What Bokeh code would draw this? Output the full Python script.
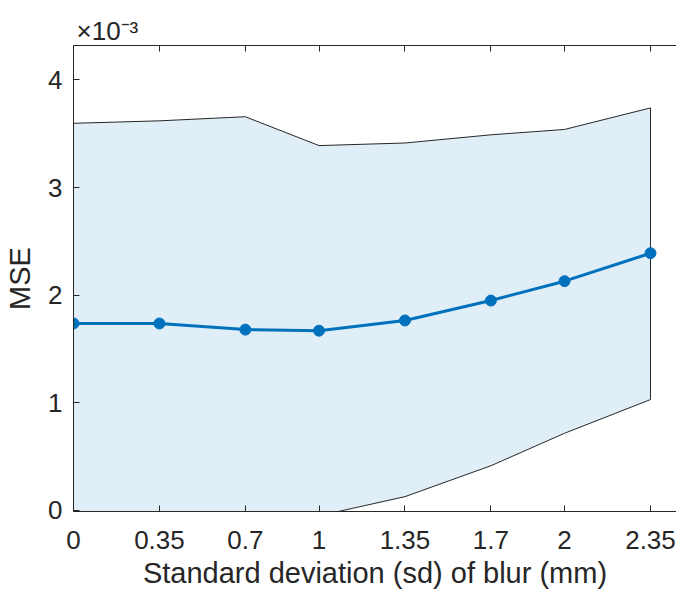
from bokeh.plotting import figure
from bokeh.models import (LinearAxis, FixedTicker, CustomJSTickFormatter,
                          Range1d, ColumnDataSource)
from bokeh.embed import file_html
from bokeh.resources import INLINE

# ---- data ----
sd_blur = [0.0, 0.35, 0.7, 1.0, 1.35, 1.7, 2.0, 2.35]
mse_mean = [1.737e-3, 1.737e-3, 1.680e-3, 1.670e-3, 1.765e-3, 1.950e-3, 2.130e-3, 2.390e-3]
mse_upper = [3.597e-3, 3.620e-3, 3.658e-3, 3.390e-3, 3.414e-3, 3.490e-3, 3.540e-3, 3.740e-3]
mse_lower = [-0.123e-3, -0.146e-3, -0.298e-3, -0.050e-3, 0.128e-3, 0.415e-3, 0.717e-3, 1.030e-3]
x_tick_labels = ["0", "0.35", "0.7", "1", "1.35", "1.7", "2", "2.35"]
y_ticks = [0.0, 1e-3, 2e-3, 3e-3, 4e-3]

FONT = "Liberation Sans"
AX = "#262626"

p = figure(width=676, height=591, output_backend="svg", toolbar_location=None,
           x_range=Range1d(0, 2.456), y_range=Range1d(-0.01e-3, 4.32e-3),
           min_border_left=73, min_border_right=0, min_border_top=45,
           min_border_bottom=77, x_axis_location="below",
           title="\u00d710\u207b\u00b3")
p.outline_line_color = None
p.grid.visible = False
p.background_fill_color = "white"

p.title.align = "left"
p.title.offset = 3
p.title.standoff = 0
p.title.text_font = FONT
p.title.text_font_size = "26px"
p.title.text_font_style = "normal"
p.title.text_color = AX

# band
band_x = sd_blur + sd_blur[::-1]
band_y = mse_upper + mse_lower[::-1]
p.patch(band_x, band_y, fill_color="#e0eef7", fill_alpha=1.0,
        line_color="#262626", line_width=1)

src = ColumnDataSource(dict(x=sd_blur, y=mse_mean))
p.line("x", "y", source=src, line_color="#0072BD", line_width=3)
p.scatter("x", "y", source=src, size=11, fill_color="#0072BD", line_color="#0072BD")

# axes styling
xa = p.xaxis[0]
xa.ticker = FixedTicker(ticks=sd_blur)
xa.major_label_overrides = {t: l for t, l in zip(sd_blur, x_tick_labels)}
xa.axis_label = "Standard deviation (sd) of blur (mm)"

ya = p.yaxis[0]
ya.ticker = FixedTicker(ticks=y_ticks)
ya.formatter = CustomJSTickFormatter(code="return (tick*1000).toFixed(0);")
ya.axis_label = "MSE"

for ax in (xa, ya):
    ax.axis_line_color = AX
    ax.axis_line_width = 1
    ax.major_tick_line_color = AX
    ax.major_tick_in = 6
    ax.major_tick_out = 0
    ax.minor_tick_line_color = None
    ax.major_label_text_font = FONT
    ax.major_label_text_font_size = "26px"
    ax.major_label_text_color = AX
    ax.axis_label_text_font = FONT
    ax.axis_label_text_font_size = "29px"
    ax.axis_label_text_font_style = "normal"
    ax.axis_label_text_color = AX

xa.major_label_standoff = 19
xa.axis_label_standoff = 5
ya.major_label_standoff = 11
ya.axis_label_standoff = 9

top = LinearAxis(ticker=FixedTicker(ticks=sd_blur),
                 formatter=CustomJSTickFormatter(code="return '';"))
top.axis_line_color = AX
top.major_tick_line_color = AX
top.major_tick_in = 6
top.major_tick_out = 0
top.minor_tick_line_color = None
top.major_label_text_font_size = "1px"
top.major_label_standoff = 0
p.add_layout(top, "above")

open("out.html", "w").write(file_html(p, INLINE))
